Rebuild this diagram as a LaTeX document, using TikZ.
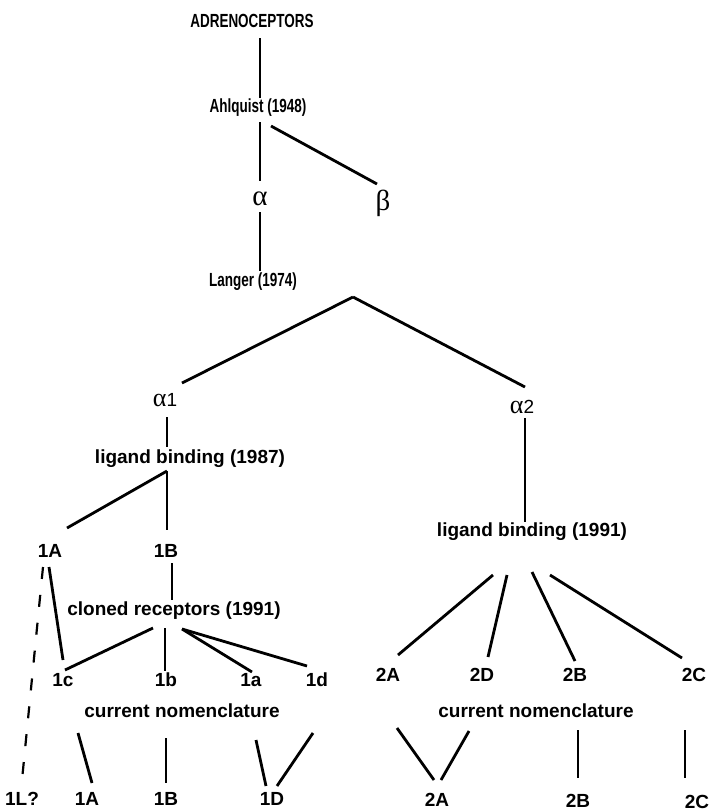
\documentclass[tikz,border=0pt]{standalone}
\usepackage{fontspec}
\setmainfont{Liberation Sans}
\newfontfamily\greekfont{Liberation Serif}
\usepackage{graphicx}
\usetikzlibrary{calc}

\newcommand{\narrowtext}[1]{\scalebox{0.71}[1]{#1}}

\begin{document}
\begin{tikzpicture}[x=1pt,y=-1pt,
    lab/.style={inner sep=0pt,font=\fontsize{19}{22}\selectfont\bfseries},
    grk/.style={inner sep=0pt,font=\fontsize{29}{32}\selectfont\greekfont},
    sub/.style={inner sep=0pt,font=\fontsize{19}{22}\selectfont},
    stem/.style={draw,line width=1.8pt},
    branch/.style={draw,line width=2.8pt}]

  \useasboundingbox (0,0) rectangle (710,812);

  % top of the tree
  \node [lab] (adr)    at (252,21)  {\narrowtext{ADRENOCEPTORS}};
  \node [lab] (ahl)    at (258,108) {\narrowtext{Ahlquist (1948)}};
  \node [grk] (alpha)  at (260,199) {α};
  \node [grk] (beta)   at (383,203) {β};
  \node [lab] (langer) at (253,282) {\narrowtext{Langer (1974)}};

  \node [sub] (a1) at (165,400) {{\fontsize{26}{28}\selectfont\greekfont α}1};
  \node [sub] (a2) at (522,407) {{\fontsize{26}{28}\selectfont\greekfont α}2};

  % alpha 1 branch
  \node [lab] (lig1) at (190,459) {ligand binding (1987)};
  \node [lab] (s1A)  at (50,551)  {1A};
  \node [lab] (s1B)  at (166,551) {1B};
  \node [lab] (clo)  at (174,611) {cloned receptors (1991)};
  \node [lab] (c1c)  at (63,680)  {1c};
  \node [lab] (c1b)  at (166,680) {1b};
  \node [lab] (c1a)  at (251,680) {1a};
  \node [lab] (c1d)  at (317,680) {1d};
  \node [lab] (cur1) at (182,711) {current nomenclature};
  \node [lab] (n1L)  at (22,799)  {1L?};
  \node [lab] (n1A)  at (87,799)  {1A};
  \node [lab] (n1B)  at (166,799) {1B};
  \node [lab] (n1D)  at (272,799) {1D};

  % alpha 2 branch
  \node [lab] (lig2) at (532,532) {ligand binding (1991)};
  \node [lab] (s2A)  at (388,675) {2A};
  \node [lab] (s2D)  at (482,675) {2D};
  \node [lab] (s2B)  at (575,675) {2B};
  \node [lab] (s2C)  at (694,675) {2C};
  \node [lab] (cur2) at (536,711) {current nomenclature};
  \node [lab] (n2A)  at (437,800) {2A};
  \node [lab] (n2B)  at (578,801) {2B};
  \node [lab] (n2C)  at (697,802) {2C};

  \path [stem]
    ($(adr)+(8,17)$)    edge ($(ahl)+(2,-10)$)
    ($(ahl)+(2,14)$)    edge ($(alpha)+(0,-18)$)
    ($(alpha)+(0,13)$)  edge ($(langer)+(7,-11)$)
    ($(a1)+(2,17)$)     edge ($(lig1)+(-23,-12)$)
    ($(a2)+(3,11)$)     edge ($(lig2)+(-7,-10)$)
    ($(lig1)+(-23,12)$) edge ($(s1B)+(1,-21)$)
    ($(s1B)+(6,12)$)    edge ($(clo)+(-2,-11)$)
    ($(clo)+(-9,17)$)   edge ($(c1b)+(-1,-9)$)
    ($(cur1)+(-16,27)$) edge ($(n1B)+(0,-16)$)
    ($(cur2)+(42,19)$)  edge ($(n2B)+(0,-23)$)
    ($(cur2)+(149,19)$) edge ($(n2C)+(-12,-24)$);

  \path [branch]
    ($(ahl)+(13,18)$)     edge ($(beta)+(-6,-19)$)
    ($(langer)+(100,15)$) edge ($(a1)+(17,-17)$)
    ($(langer)+(100,15)$) edge ($(a2)+(3,-20)$)
    ($(lig1)+(-23,12)$)   edge ($(s1A)+(17,-23)$)
    ($(s1A)+(-1,16)$)     edge ($(c1c)+(0,-20)$)
    ($(clo)+(-21,17)$)    edge ($(c1c)+(2,-10)$)
    ($(clo)+(8,18)$)      edge ($(c1a)+(1,-8)$)
    ($(clo)+(8,18)$)      edge ($(c1d)+(-10,-14)$)
    ($(cur1)+(-104,22)$)  edge ($(n1A)+(5,-16)$)
    ($(cur1)+(74,29)$)    edge ($(n1D)+(-6,-13)$)
    ($(cur1)+(131,22)$)   edge ($(n1D)+(5,-13)$)
    ($(lig2)+(-39,43)$)   edge ($(s2A)+(10,-20)$)
    ($(lig2)+(-25,43)$)   edge ($(s2D)+(6,-18)$)
    ($(lig2)+(0,40)$)     edge ($(s2B)+(0,-14)$)
    ($(lig2)+(18,43)$)    edge ($(s2C)+(-12,-17)$)
    ($(cur2)+(-139,17)$)  edge ($(n2A)+(-3,-20)$)
    ($(cur2)+(-67,20)$)   edge ($(n2A)+(4,-20)$);

  \path [draw,line width=2.2pt,dash pattern=on 12pt off 16pt]
    ($(s1A)+(-7,16)$) edge ($(n1L)+(0,-19)$);

\end{tikzpicture}
\end{document}
